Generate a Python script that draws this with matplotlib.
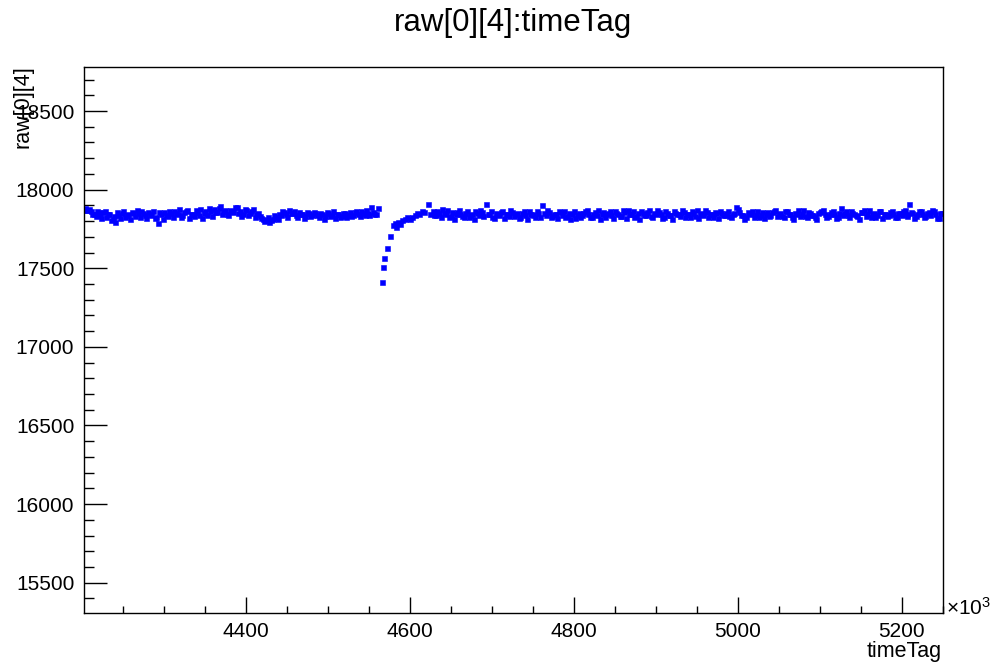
import matplotlib
matplotlib.use("Agg")
import matplotlib.pyplot as plt
from matplotlib.ticker import MultipleLocator

plt.rcParams['font.family'] = ['Liberation Sans', 'DejaVu Sans']
plt.rcParams['mathtext.fontset'] = 'custom'
plt.rcParams['mathtext.rm'] = 'Liberation Sans'

# timeTag (in units of 10^3) and raw[0][4]
# flat part before the dip
time_a = [4204, 4207, 4211, 4215, 4219, 4222, 4226, 4230, 4234, 4238,
          4241, 4245, 4249, 4253, 4257, 4261, 4265, 4269, 4273, 4277,
          4281, 4285, 4289, 4293, 4297, 4301, 4305, 4309, 4313, 4317,
          4321, 4325, 4329, 4333, 4337, 4341, 4345, 4349, 4353, 4357,
          4361, 4365, 4369, 4373, 4377, 4381, 4385, 4389, 4393, 4397,
          4401, 4405, 4409, 4413, 4417, 4421, 4425, 4429, 4433, 4437,
          4441, 4445, 4449, 4453, 4457, 4461, 4465, 4469, 4473, 4477,
          4481, 4485, 4489, 4493, 4497, 4501, 4505, 4509, 4513, 4517,
          4521, 4525, 4529, 4533, 4537, 4541, 4545, 4549, 4553, 4557,
          4561]
raw_a = [17884, 17872, 17861, 17848, 17866, 17838, 17855, 17829, 17847, 17812,
         17791, 17836, 17852, 17826, 17845, 17858, 17833, 17849, 17862, 17840,
         17856, 17837, 17818, 17790, 17843, 17859, 17834, 17851, 17866, 17842,
         17829, 17855, 17871, 17846, 17832, 17858, 17875, 17851, 17837, 17862,
         17878, 17855, 17893, 17866, 17848, 17871, 17859, 17887, 17864, 17842,
         17868, 17853, 17874, 17846, 17832, 17815, 17806, 17793, 17812, 17826,
         17848, 17861, 17843, 17869, 17852, 17838, 17857, 17844, 17831, 17849,
         17836, 17852, 17827, 17845, 17833, 17850, 17839, 17822, 17846, 17835,
         17853, 17841, 17830, 17856, 17844, 17861, 17838, 17852, 17889, 17847,
         17881]
time_a2 = [4206, 4209, 4213, 4217, 4221, 4224, 4228, 4232, 4236, 4240,
           4243, 4247, 4251, 4255, 4259, 4263, 4267, 4271, 4275, 4279,
           4283, 4287, 4291, 4295, 4299, 4303, 4307, 4311, 4315, 4319,
           4323, 4327, 4331, 4335, 4339, 4343, 4347, 4351, 4355, 4359,
           4363, 4367, 4371, 4375, 4379, 4383, 4387, 4391, 4395, 4399,
           4403, 4407, 4411, 4415, 4419, 4423, 4427, 4431, 4435, 4439,
           4443, 4447, 4451, 4455, 4459, 4463, 4467, 4471, 4475, 4479,
           4483, 4487, 4491, 4495, 4499, 4503, 4507, 4511, 4515, 4519,
           4523, 4527, 4531, 4535, 4539, 4543, 4547, 4551, 4555, 4559]
raw_a2 = [17868, 17879, 17842, 17831, 17856, 17817, 17862, 17845, 17808, 17833,
          17859, 17821, 17864, 17838, 17811, 17849, 17872, 17827, 17853, 17818,
          17846, 17863, 17829, 17855, 17812, 17838, 17867, 17824, 17850, 17879,
          17836, 17861, 17822, 17848, 17869, 17841, 17818, 17863, 17884, 17835,
          17858, 17880, 17846, 17872, 17838, 17862, 17891, 17849, 17835, 17876,
          17840, 17861, 17828, 17853, 17819, 17798, 17823, 17809, 17837, 17816,
          17839, 17858, 17826, 17851, 17864, 17829, 17847, 17820, 17855, 17832,
          17860, 17838, 17849, 17816, 17857, 17831, 17861, 17843, 17825, 17854,
          17829, 17856, 17841, 17866, 17833, 17851, 17872, 17838, 17860, 17843]

# the dip and its recovery
time_b = [4566, 4567.5, 4568.5, 4572, 4576, 4580, 4582, 4584, 4586, 4588,
          4591, 4594, 4597, 4600, 4603, 4606, 4609, 4612, 4615, 4618,
          4622, 4625]
raw_b = [17412, 17508, 17563, 17628, 17705, 17775, 17790, 17765, 17795, 17782,
         17806, 17815, 17824, 17810, 17829, 17836, 17852, 17843, 17866, 17855,
         17906, 17848]

# flat part after the dip
time_c = [4628, 4632, 4636, 4640, 4644, 4648, 4652, 4656, 4660, 4664,
          4668, 4672, 4676, 4680, 4684, 4688, 4693, 4697, 4701, 4705,
          4709, 4713, 4717, 4721, 4725, 4729, 4733, 4737, 4741, 4745,
          4749, 4753, 4757, 4762, 4766, 4770, 4774, 4778, 4782, 4786,
          4790, 4794, 4798, 4802, 4806, 4810, 4814, 4818, 4822, 4826,
          4830, 4834, 4838, 4842, 4846, 4850, 4854, 4858, 4862, 4866,
          4870, 4874, 4878, 4882, 4886, 4890, 4894, 4898, 4902, 4906,
          4910, 4914, 4918, 4922, 4926, 4930, 4934, 4938, 4942, 4946,
          4950, 4954, 4958, 4962, 4966, 4970, 4974, 4978, 4982, 4986,
          4990, 4994, 4998, 5002, 5006, 5010, 5014, 5018, 5022, 5026,
          5030, 5034, 5038, 5042, 5046, 5050, 5054, 5058, 5062, 5066,
          5070, 5074, 5078, 5082, 5086, 5090, 5094, 5098, 5102, 5106,
          5110, 5114, 5118, 5122, 5126, 5130, 5134, 5138, 5142, 5146,
          5150, 5154, 5158, 5162, 5166, 5170, 5174, 5178, 5182, 5186,
          5190, 5194, 5198, 5202, 5206, 5209, 5213, 5217, 5221, 5225,
          5229, 5233, 5237, 5241, 5245, 5249]
raw_c = [17862, 17838, 17851, 17874, 17846, 17829, 17857, 17843, 17868, 17835,
         17852, 17824, 17847, 17861, 17838, 17855, 17907, 17842, 17826, 17853,
         17839, 17864, 17847, 17831, 17856, 17844, 17819, 17851, 17836, 17862,
         17845, 17828, 17853, 17904, 17841, 17857, 17833, 17848, 17866, 17839,
         17824, 17851, 17843, 17818, 17854, 17837, 17861, 17846, 17829, 17855,
         17870, 17842, 17826, 17851, 17838, 17863, 17847, 17831, 17856, 17873,
         17844, 17829, 17852, 17866, 17841, 17855, 17834, 17849, 17868, 17843,
         17827, 17853, 17839, 17862, 17848, 17831, 17857, 17844, 17826, 17852,
         17870, 17845, 17836, 17859, 17842, 17828, 17854, 17867, 17840, 17853,
         17834, 17848, 17889, 17856, 17838, 17823, 17849, 17863, 17841, 17829,
         17855, 17846, 17832, 17858, 17873, 17847, 17835, 17861, 17844, 17826,
         17852, 17868, 17843, 17830, 17856, 17839, 17824, 17851, 17865, 17842,
         17833, 17857, 17846, 17829, 17884, 17851, 17838, 17862, 17845, 17831,
         17856, 17869, 17843, 17828, 17854, 17840, 17863, 17847, 17832, 17858,
         17842, 17826, 17853, 17867, 17844, 17908, 17849, 17835, 17861, 17846,
         17830, 17855, 17871, 17843, 17818, 17852]
time_c2 = [4630, 4634, 4638, 4642, 4646, 4650, 4654, 4658, 4662, 4666,
           4670, 4674, 4678, 4682, 4686, 4690, 4695, 4699, 4703, 4707,
           4711, 4715, 4719, 4723, 4727, 4731, 4735, 4739, 4743, 4747,
           4751, 4755, 4759, 4764, 4768, 4772, 4776, 4780, 4784, 4788,
           4792, 4796, 4800, 4804, 4808, 4812, 4816, 4820, 4824, 4828,
           4832, 4836, 4840, 4844, 4848, 4852, 4856, 4860, 4864, 4868,
           4872, 4876, 4880, 4884, 4888, 4892, 4896, 4900, 4904, 4908,
           4912, 4916, 4920, 4924, 4928, 4932, 4936, 4940, 4944, 4948,
           4952, 4956, 4960, 4964, 4968, 4972, 4976, 4980, 4984, 4988,
           4992, 4996, 5000, 5004, 5008, 5012, 5016, 5020, 5024, 5028,
           5032, 5036, 5040, 5044, 5048, 5052, 5056, 5060, 5064, 5068,
           5072, 5076, 5080, 5084, 5088, 5092, 5096, 5100, 5104, 5108,
           5112, 5116, 5120, 5124, 5128, 5132, 5136, 5140, 5144, 5148,
           5152, 5156, 5160, 5164, 5168, 5172, 5176, 5180, 5184, 5188,
           5192, 5196, 5200, 5204, 5207, 5211, 5215, 5219, 5223, 5227,
           5231, 5235, 5239, 5243, 5247]
raw_c2 = [17841, 17866, 17823, 17852, 17870, 17835, 17814, 17858, 17843, 17827,
          17861, 17839, 17816, 17853, 17872, 17830, 17848, 17865, 17821, 17844,
          17858, 17817, 17842, 17869, 17833, 17851, 17828, 17864, 17812, 17847,
          17836, 17862, 17825, 17850, 17871, 17829, 17845, 17818, 17856, 17867,
          17832, 17814, 17861, 17840, 17823, 17853, 17869, 17827, 17848, 17836,
          17811, 17857, 17843, 17864, 17822, 17849, 17835, 17872, 17818, 17846,
          17861, 17833, 17815, 17852, 17839, 17868, 17826, 17844, 17857, 17821,
          17866, 17838, 17813, 17851, 17842, 17869, 17824, 17847, 17862, 17835,
          17817, 17854, 17871, 17829, 17843, 17860, 17822, 17849, 17836, 17866,
          17828, 17853, 17874, 17837, 17815, 17858, 17843, 17826, 17862, 17840,
          17819, 17855, 17838, 17867, 17831, 17850, 17823, 17861, 17844, 17812,
          17847, 17834, 17869, 17825, 17853, 17840, 17816, 17858, 17872, 17829,
          17845, 17863, 17821, 17849, 17837, 17866, 17824, 17852, 17841, 17815,
          17857, 17832, 17870, 17843, 17828, 17861, 17819, 17848, 17836, 17865,
          17823, 17851, 17840, 17873, 17834, 17859, 17817, 17846, 17862, 17828,
          17853, 17838, 17866, 17822, 17849]

fig = plt.figure(figsize=(9.92, 6.65), dpi=100)
ax = fig.add_axes([0.0847, 0.0777, 0.8656, 0.8211])

series = [(time_a, raw_a), (time_a2, raw_a2), (time_b, raw_b),
          (time_c, raw_c), (time_c2, raw_c2)]
for t, r in series:
    ax.plot(t, r, linestyle='none', marker='s', ms=3.6, mew=0.4,
            color='#0000ff', mec='#0000ff')

ax.set_xlim(4203, 5250)
ax.set_ylim(15305, 18778)

ax.xaxis.set_major_locator(MultipleLocator(200))
ax.xaxis.set_minor_locator(MultipleLocator(50))
ax.yaxis.set_major_locator(MultipleLocator(500))
ax.yaxis.set_minor_locator(MultipleLocator(100))

ax.tick_params(axis='both', which='both', direction='in', top=False, right=False,
               width=1.0, color='black', labelsize=15)
ax.tick_params(axis='x', which='major', length=11.5, pad=6.5)
ax.tick_params(axis='x', which='minor', length=5.3)
ax.tick_params(axis='y', which='major', length=16.5, pad=7)
ax.tick_params(axis='y', which='minor', length=7.2)
for s in ax.spines.values():
    s.set_linewidth(1.0)

fig.text(0.517, 0.966, 'raw[0][4]:timeTag', ha='center', va='center', fontsize=22.5)
fig.text(0.0235, 1 - 65 / 665, 'raw[0][4]', rotation=90, ha='center', va='top', fontsize=15.5)
fig.text(942 / 992, 1 - 657 / 665, 'timeTag', ha='right', va='baseline', fontsize=15.5)
fig.text(946 / 992, 1 - 615 / 665, r'$\mathregular{\times10^{3}}$', ha='left', va='baseline', fontsize=15)

fig.savefig('out.png', dpi=100)
